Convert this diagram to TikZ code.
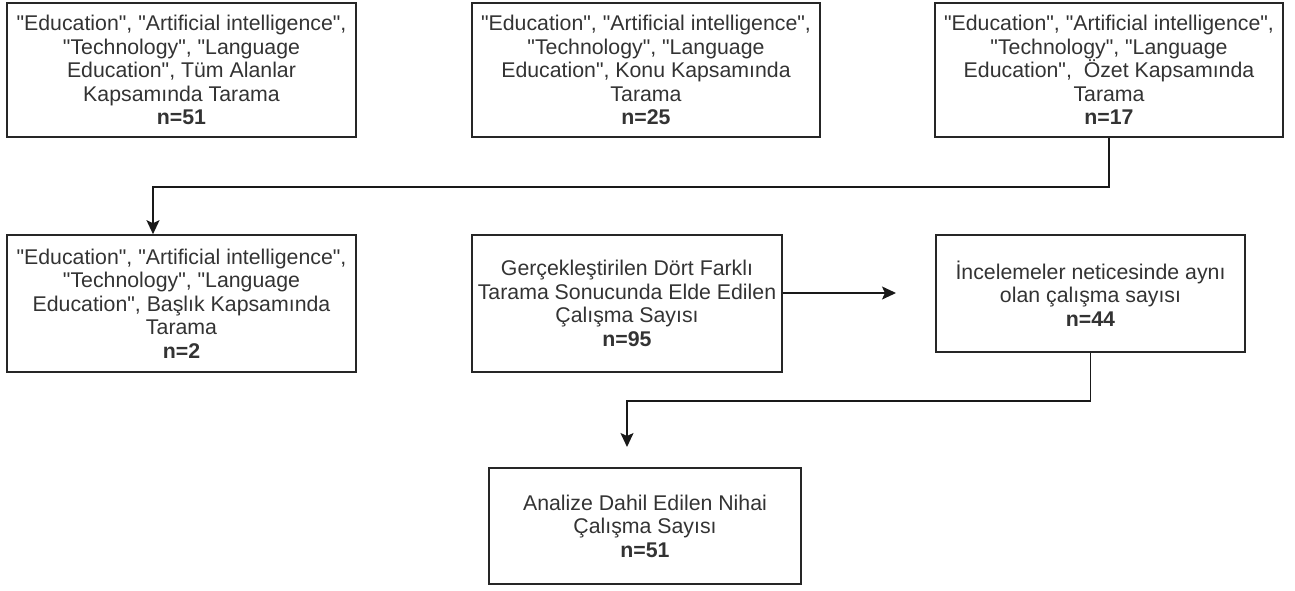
\documentclass[tikz,border=0pt]{standalone}
\usepackage{fontspec}
\setmainfont{Liberation Sans}[Ligatures=TeXOff]
\usetikzlibrary{arrows.meta}
\begin{document}
\begin{tikzpicture}[x=1pt,y=-1pt,
  box/.style={draw=black!85, line width=1.6pt, rectangle, inner sep=0pt, align=center,
    font=\fontsize{21.3}{23.5}\selectfont, text=black!80},
  arr/.style={draw=black!90, line width=1.6pt, -{Stealth[length=14pt,width=13pt,inset=3pt]}},
  line/.style={draw=black!90, line width=1.6pt}]
\useasboundingbox (0,0) rectangle (1295,590);
\node[box, minimum width=349pt, minimum height=134pt] (A) at (181.5,70)
  {"Education", "Artificial intelligence",\\ "Technology", "Language\\ Education", Tüm Alanlar\\ Kapsamında Tarama\\ \textbf{n=51}};
\node[box, minimum width=348pt, minimum height=134pt] (B) at (646,70)
  {"Education", "Artificial intelligence",\\ "Technology", "Language\\ Education", Konu Kapsamında\\ Tarama\\ \textbf{n=25}};
\node[box, minimum width=348pt, minimum height=134pt] (C) at (1109,70)
  {"Education", "Artificial intelligence",\\ "Technology", "Language\\ Education",\ \ Özet Kapsamında\\ Tarama\\ \textbf{n=17}};
\node[box, minimum width=349pt, minimum height=137pt] (D) at (181.5,303.5)
  {"Education", "Artificial intelligence",\\ "Technology", "Language\\ Education", Başlık Kapsamında\\ Tarama\\ \textbf{n=2}};
\node[box, minimum width=310pt, minimum height=137pt] (E) at (627,303.5)
  {Gerçekleştirilen Dört Farklı\\ Tarama Sonucunda Elde Edilen\\ Çalışma Sayısı\\ \textbf{n=95}};
\node[box, minimum width=309pt, minimum height=117pt] (F) at (1090.5,293.5)
  {İncelemeler neticesinde aynı\\ olan çalışma sayısı\\ \textbf{n=44}};
\node[box, minimum width=312pt, minimum height=116pt] (G) at (645,526)
  {Analize Dahil Edilen Nihai\\ Çalışma Sayısı\\ \textbf{n=51}};
\coordinate (c1) at (153,187);
\draw[arr] (C.south) |- (c1) -- (c1 |- D.north);
\coordinate (f1) at (896,293);
\draw[arr] (E.east |- f1) -- (f1);
\coordinate (g1) at (627,401);
\coordinate (g2) at (627,447);
\draw[arr] (F.south) |- (g1) -- (g2);
\end{tikzpicture}
\end{document}
